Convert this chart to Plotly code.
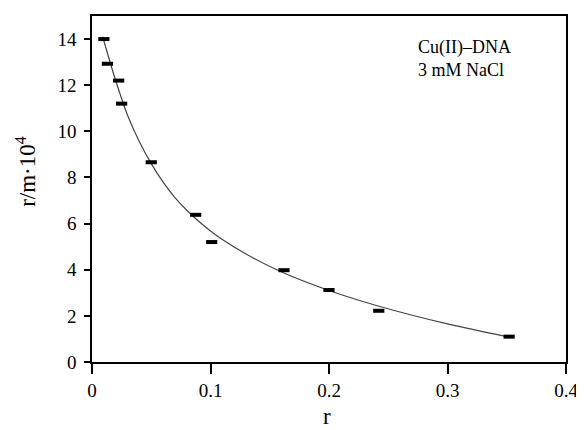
import plotly.graph_objects as go

# measured points
r_pts = [0.010, 0.013, 0.0225, 0.025, 0.050, 0.0875, 0.101, 0.162, 0.200, 0.242, 0.352]
rm_pts = [14.0, 12.93, 12.2, 11.2, 8.66, 6.38, 5.2, 3.98, 3.12, 2.22, 1.1]

# fitted curve
r_fit = [0.009, 0.02, 0.03, 0.04, 0.05, 0.06, 0.07, 0.08, 0.09, 0.10, 0.11, 0.13, 0.16, 0.20, 0.24, 0.30, 0.35]
rm_fit = [14.1, 12.2, 10.7, 9.55, 8.6, 7.8, 7.13, 6.58, 6.1, 5.68, 5.31, 4.68, 3.9, 3.1, 2.45, 1.65, 1.1]

x_ticks = [0, 0.1, 0.2, 0.3, 0.4]
x_ticklabels = ["0", "0.1", "0.2", "0.3", "0.4"]
y_ticks = [0, 2, 4, 6, 8, 10, 12, 14]

FONT = "Liberation Serif"

fig = go.Figure()
fig.add_trace(go.Scatter(
    x=r_fit, y=rm_fit, mode="lines", line=dict(color="#444444", width=1.2, shape="spline"),
    showlegend=False, hoverinfo="skip"))
fig.add_trace(go.Scatter(
    x=r_pts, y=rm_pts, mode="markers",
    marker=dict(symbol="line-ew", size=8, line=dict(color="black", width=4)),
    showlegend=False))

fig.update_layout(
    width=576, height=422,
    margin=dict(l=84, r=12, t=6, b=68),
    paper_bgcolor="white", plot_bgcolor="white",
    font=dict(family=FONT, color="black", size=19),
    xaxis=dict(range=[0, 0.4], tickvals=x_ticks, ticktext=x_ticklabels,
               ticks="outside", ticklen=10, tickwidth=1.5, tickcolor="black",
               showline=True, linecolor="black", linewidth=1.5, mirror=True,
               ticklabeloverflow="allow",
               showgrid=False, zeroline=False, tickfont=dict(size=19, family=FONT)),
    yaxis=dict(range=[0, 15], tickvals=y_ticks,
               ticks="outside", ticklen=6, tickwidth=1.5, tickcolor="black",
               showline=True, linecolor="black", linewidth=1.5, mirror=True,
               ticklabelstandoff=4,
               showgrid=False, zeroline=False, tickfont=dict(size=19, family=FONT)),
    annotations=[
        dict(text="r/m·10<sup>4</sup>", xref="paper", yref="paper", x=-0.1396, y=0.552,
             textangle=-90, showarrow=False, font=dict(size=23, family=FONT),
             xanchor="center", yanchor="middle"),
        dict(text="r", xref="paper", yref="paper", x=0.496, y=-0.158,
             showarrow=False, font=dict(size=23, family=FONT),
             xanchor="center", yanchor="middle"),
        dict(text="Cu(II)–DNA<br>3 mM NaCl", xref="paper", yref="paper",
             x=(420 - 92) / 480, y=(362 - 33) / 348, xanchor="left", yanchor="top",
             align="left", showarrow=False, font=dict(size=18, family=FONT)),
    ],
)

fig.write_html("out.html")
